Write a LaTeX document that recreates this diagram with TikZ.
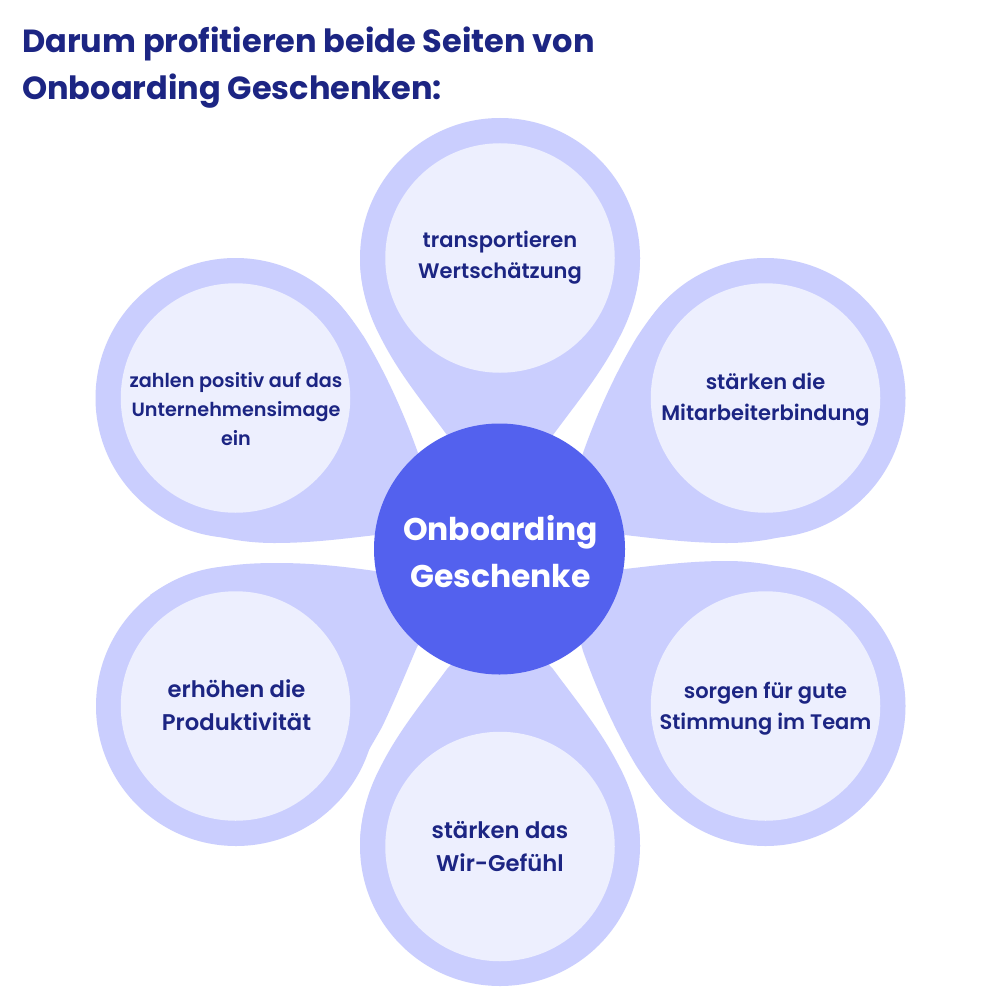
\documentclass[tikz,border=0pt]{standalone}
\usepackage{fontspec}
\setmainfont{Poppins}[BoldFont={* SemiBold},BoldFeatures={}]
\newfontfamily\popb{Poppins Bold}
\definecolor{navy}{HTML}{1C2583}
\definecolor{petal}{HTML}{CACEFE}
\definecolor{inner}{HTML}{EDEFFE}
\definecolor{hub}{HTML}{5361EE}
\tikzset{
 petalshape/.style={fill=petal,draw=none},
 innercirc/.style={circle,fill=inner,draw=none,minimum size=229.5pt,inner sep=0pt},
 lab/.style={align=center,text=navy,inner sep=0pt,font=\fontsize{21}{31}\selectfont\bfseries},
 labbig/.style={lab,font=\fontsize{22.7}{33}\selectfont\bfseries},
 labsmall/.style={lab,font=\fontsize{19.2}{29}\selectfont\bfseries},
 hubnode/.style={circle,fill=hub,draw=none,minimum size=251pt,inner sep=0pt},
 hublab/.style={align=center,text=white,inner sep=0pt,font=\fontsize{31.4}{47}\selectfont\popb},
 titletext/.style={anchor=west,text=navy,inner sep=0pt,font=\fontsize{32}{48}\selectfont\popb}
}
\newcommand{\toppetal}[1]{%
 \begin{scope}[shift={(500,552)},yscale=#1]
  \fill[petalshape] (0,-294) circle[radius=140];
  \fill[petalshape] (-140,-294)
   .. controls (-140,-262) and (-130,-234) .. (-118,-212)
   .. controls (-100,-177) and (-75,-147) .. (-53,-117)
   -- (0,-60) -- (53,-117)
   .. controls (75,-147) and (100,-177) .. (118,-212)
   .. controls (130,-234) and (140,-262) .. (140,-294) -- cycle;
 \end{scope}}
\newcommand{\sidepetal}[2]{%
 \begin{scope}[shift={(500.5,552)},xscale=#1,yscale=#2]
  \fill[petalshape] (265,-154) circle[radius=140];
  \fill[petalshape] (169.5,-256)
   .. controls (154.5,-242) and (144.5,-227) .. (136.5,-215)
   .. controls (119.5,-187) and (99.5,-147) .. (82.5,-99)
   -- (60,-17) -- (124.5,-17)
   .. controls (159.5,-13) and (189.5,-9) .. (226.5,-9)
   .. controls (262,-9) and (305,-17) .. (342.5,-40) -- cycle;
 \end{scope}}
\begin{document}
\begin{tikzpicture}[x=1pt,y=-1pt]
\useasboundingbox (0,0) rectangle (1000,1000);
\fill[white] (0,0) rectangle (1000,1000);
\toppetal{1}
\toppetal{-1}
\sidepetal{1}{1}
\sidepetal{-1}{1}
\sidepetal{1}{-1}
% lower left petal
\fill[petalshape] (236,706) circle[radius=140];
\fill[petalshape] (313,823)
  .. controls (325,815) and (338,800) .. (347,787)
  .. controls (358,768) and (372,745) .. (382,727)
  .. controls (395,700) and (407,670) .. (417,647)
  -- (450,600) -- (375,571)
  .. controls (340,566) and (310,563) .. (277,563)
  .. controls (235,563) and (190,567) .. (150,595) -- cycle;
\node[hubnode] (hub) at (499.5,549) {};
\node[hublab] (hubt) at (500.5,551.5) {Onboarding\\Geschenke};
\node[innercirc] (a) at (500,258) {};
\node[innercirc] (b) at (765.5,398) {};
\node[innercirc] (c) at (765.5,706) {};
\node[innercirc] (d) at (500,846.5) {};
\node[innercirc] (e) at (235.5,706) {};
\node[innercirc] (f) at (235.5,398) {};
\node[lab] (at) at (500,258) {transportieren\\Wertschätzung};
\node[lab] (bt) at (765.5,400) {stärken die\\Mitarbeiterbindung};
\node[lab] (ct) at (765.5,708.5) {sorgen für gute\\Stimmung im Team};
\node[labbig] (dt) at (500,846.5) {stärken das\\Wir-Gefühl};
\node[labbig] (et) at (236.5,705.5) {erhöhen die\\Produktivität};
\node[labsmall] (ft) at (236,409.5) {zahlen positiv auf das\\Unternehmensimage\\ein};
\node[titletext] (t1) at (22,43.5) {Darum profitieren beide Seiten von};
\node[titletext] (t2) at (22,91.5) {Onboarding Geschenken:};
\end{tikzpicture}
\end{document}
